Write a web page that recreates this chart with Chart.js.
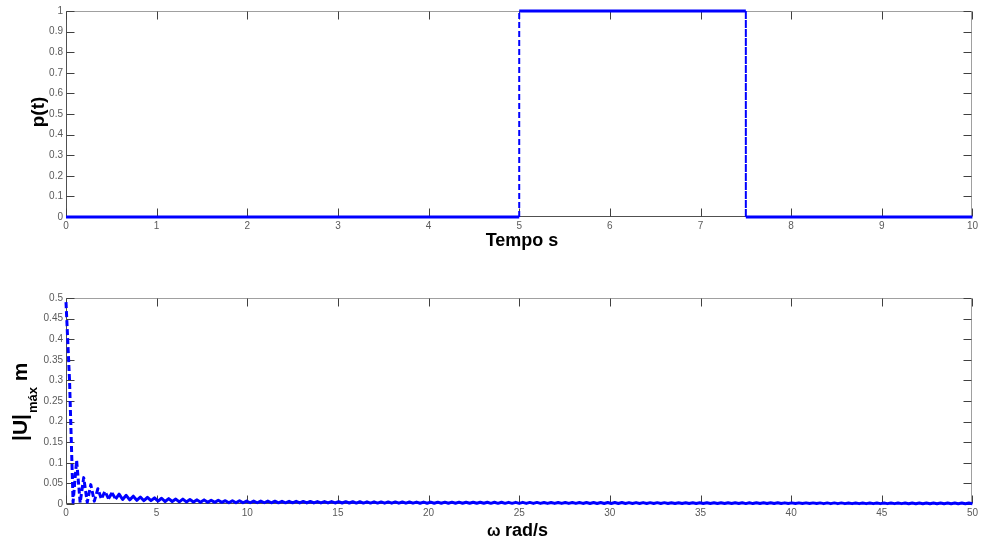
<!DOCTYPE html>
<html>
<head>
<meta charset="utf-8">
<script src="https://cdn.jsdelivr.net/npm/chart.js@4.4.1/dist/chart.umd.min.js"></script>
<style>
  html, body { margin: 0; padding: 0; background: #fff; }
  #wrap { position: relative; width: 981px; height: 547px; }
  canvas { position: absolute; left: 0; }
  #top-chart { top: 0; }
  #bottom-chart { top: 273px; }
</style>
</head>
<body>
<div id="wrap">
  <canvas id="top-chart" width="981" height="273"></canvas>
  <canvas id="bottom-chart" width="981" height="274"></canvas>
</div>
<script>
// pulse p(t)
const pTime = [0, 5, 5, 7.5, 7.5, 10];
const pValue = [0, 0, 1, 1, 0, 0];

const uMax = [
  0.49, 0.30, 0.004, 0.106, 0.003, 0.064, 0.004, 0.047, 0.007, 0.037,
  0.012, 0.031, 0.013, 0.027, 0.012, 0.024, 0.011, 0.021, 0.010, 0.019,
  0.009, 0.017, 0.008, 0.016, 0.008, 0.015, 0.007, 0.014, 0.006, 0.013,
  0.006, 0.012, 0.005, 0.012, 0.005, 0.011, 0.005, 0.010, 0.004, 0.010,
  0.004, 0.009, 0.004, 0.009, 0.004, 0.008, 0.003, 0.008, 0.003, 0.008,
  0.003, 0.007,
  0.003, 0.007, 0.003, 0.007, 0.003, 0.007, 0.003, 0.0068, 0.0029, 0.0066,
  0.0028, 0.0065, 0.0028, 0.0064, 0.0027, 0.0062, 0.0027, 0.0061, 0.0026, 0.006,
  0.0026, 0.0059, 0.0025, 0.0058, 0.0025, 0.0057, 0.0024, 0.0056, 0.0024, 0.0055,
  0.0023, 0.0054, 0.0023, 0.0053, 0.0022, 0.0052, 0.0022, 0.0051, 0.0021, 0.005,
  0.0021, 0.005, 0.002, 0.0049, 0.002, 0.0048, 0.002, 0.0047, 0.0019, 0.0047,
  0.0019, 0.0046, 0.0019, 0.0045, 0.0018, 0.0045, 0.0018, 0.0044, 0.0018, 0.0044,
  0.0017, 0.0043, 0.0017, 0.0043, 0.0017, 0.0042, 0.0017, 0.0042, 0.0016, 0.0041,
  0.0016, 0.0041, 0.0016, 0.004, 0.0016, 0.004, 0.0015, 0.004, 0.0015, 0.0039,
  0.0015, 0.0039, 0.0015, 0.0038, 0.0015, 0.0038, 0.0014, 0.0038, 0.0014, 0.0037,
  0.0014, 0.0037, 0.0014, 0.0037, 0.0014, 0.0036, 0.0014, 0.0036, 0.0013, 0.0036,
  0.0013, 0.0035, 0.0013, 0.0035, 0.0013, 0.0035, 0.0013, 0.0034, 0.0013, 0.0034,
  0.0012, 0.0034, 0.0012, 0.0033, 0.0012, 0.0033, 0.0012, 0.0033, 0.0012, 0.0032,
  0.0012, 0.0032, 0.0012, 0.0032, 0.0011, 0.0032, 0.0011, 0.0031, 0.0011, 0.0031,
  0.0011, 0.0031, 0.0011, 0.0031, 0.0011, 0.003, 0.0011, 0.003, 0.0011, 0.003,
  0.001, 0.003, 0.001, 0.0029, 0.001, 0.0029, 0.001, 0.0029, 0.001, 0.0029,
  0.001, 0.0028, 0.001, 0.0028, 0.001, 0.0028, 0.001, 0.0028, 0.001, 0.0027,
  0.001, 0.0027, 0.0009, 0.0027, 0.0009, 0.0027, 0.0009, 0.0027, 0.0009, 0.0026,
  0.0009, 0.0026, 0.0009, 0.0026, 0.0009, 0.0026, 0.0009, 0.0026, 0.0009, 0.0025,
  0.0009, 0.0025, 0.0009, 0.0025, 0.0009, 0.0025, 0.0008, 0.0025, 0.0008, 0.0025,
  0.0008, 0.0024, 0.0008, 0.0024, 0.0008, 0.0024, 0.0008, 0.0024, 0.0008, 0.0024,
  0.0008, 0.0024, 0.0008, 0.0023, 0.0008
];
const omegaMax = 50;

const FONT = "'Liberation Sans', Arial, sans-serif";
const BLUE = '#0000ff';
const TICK_LEN = 8;

const fmt = v => String(+Number(v).toFixed(2));

// MATLAB-like box with inward ticks on all four sides
function boxPlugin() {
    return {
        id: 'matlabBox',
        beforeDatasetsDraw(chart) {
            const { ctx, chartArea: a, scales: { x, y } } = chart;
            const L = Math.round(a.left) + 0.5, R = Math.round(a.right) - 0.5;
            const T = Math.round(a.top) + 0.5, B = Math.round(a.bottom) - 0.5;
            ctx.save();
            ctx.lineWidth = 1;
            ctx.strokeStyle = '#a0a0a0';
            ctx.beginPath();
            ctx.moveTo(L, T); ctx.lineTo(R, T); ctx.lineTo(R, B);
            ctx.stroke();
            ctx.strokeStyle = '#505050';
            ctx.beginPath();
            ctx.moveTo(L, T); ctx.lineTo(L, B); ctx.lineTo(R, B);
            ctx.stroke();
            ctx.strokeStyle = '#404040';
            ctx.beginPath();
            x.ticks.forEach(t => {
                const px = Math.round(x.getPixelForValue(t.value)) + 0.5;
                ctx.moveTo(px, B); ctx.lineTo(px, B - TICK_LEN);
                ctx.moveTo(px, T); ctx.lineTo(px, T + TICK_LEN);
            });
            y.ticks.forEach(t => {
                const py = Math.round(y.getPixelForValue(t.value)) + 0.5;
                ctx.moveTo(L, py); ctx.lineTo(L + TICK_LEN, py);
                ctx.moveTo(R, py); ctx.lineTo(R - TICK_LEN, py);
            });
            ctx.stroke();
            ctx.restore();
        }
    };
}

function titlesPlugin(draw) {
    return {
        id: 'axisTitles',
        afterDraw(chart) {
            const ctx = chart.ctx;
            ctx.save();
            ctx.fillStyle = '#000';
            draw(ctx);
            ctx.restore();
        }
    };
}

function axisOpts(min, max, step, size) {
    return {
        type: 'linear',
        min, max,
        grid: { display: false, drawTicks: false },
        border: { display: false },
        ticks: {
            stepSize: step,
            autoSkip: false,
            maxRotation: 0,
            padding: 3,
            color: '#5a5a5a',
            font: { family: FONT, size: 10 },
            callback: fmt
        },
        afterFit(scale) {
            if (scale.isHorizontal()) scale.height = size;
            else scale.width = size;
        }
    };
}

// dashes only show on long jumps, dense runs look solid
const longSeg = c => Math.hypot(c.p1.x - c.p0.x, c.p1.y - c.p0.y) > 7;

const common = {
    responsive: false,
    animation: false,
    devicePixelRatio: 1,
    events: [],
    plugins: { legend: { display: false }, tooltip: { enabled: false } }
};

new Chart(document.getElementById('top-chart'), {
    type: 'line',
    data: {
        datasets: [{
            data: pTime.map((t, i) => ({ x: t, y: pValue[i] })),
            borderColor: BLUE,
            borderWidth: 3,
            pointRadius: 0,
            tension: 0,
            clip: 6,
            segment: {
                borderDash: c => (c.p0.parsed.x === c.p1.parsed.x ? [6, 3] : undefined),
                borderWidth: c => (c.p0.parsed.x === c.p1.parsed.x ? 2 : 3)
            }
        }]
    },
    options: {
        ...common,
        layout: { padding: { top: 11, right: 8, left: 0, bottom: 0 } },
        scales: {
            x: axisOpts(0, 10, 1, 56),
            y: axisOpts(0, 1, 0.1, 66)
        }
    },
    plugins: [boxPlugin(), titlesPlugin(ctx => {
        ctx.font = `bold 18px ${FONT}`;
        ctx.textAlign = 'center';
        ctx.textBaseline = 'alphabetic';
        ctx.fillText('Tempo s', 522, 246);
        ctx.save();
        ctx.translate(44, 112);
        ctx.rotate(-Math.PI / 2);
        ctx.font = `bold 19px ${FONT}`;
        ctx.textBaseline = 'alphabetic';
        ctx.fillText('p(t)', 0, 0);
        ctx.restore();
    })]
});

new Chart(document.getElementById('bottom-chart'), {
    type: 'line',
    data: {
        datasets: [{
            data: uMax.map((u, i) => ({ x: i * omegaMax / (uMax.length - 1), y: u })),
            borderColor: BLUE,
            borderWidth: 3,
            borderJoinStyle: 'round',
            borderCapStyle: 'butt',
            pointRadius: 0,
            tension: 0,
            clip: 6,
            segment: {
                borderDash: c => (longSeg(c) ? [6, 3] : undefined)
            }
        }]
    },
    options: {
        ...common,
        layout: { padding: { top: 25, right: 8, left: 0, bottom: 0 } },
        scales: {
            x: axisOpts(0, omegaMax, 5, 43),
            y: axisOpts(0, 0.5, 0.05, 66)
        }
    },
    plugins: [boxPlugin(), titlesPlugin(ctx => {
        ctx.textBaseline = 'alphabetic';
        ctx.textAlign = 'left';
        ctx.font = `bold 16px ${FONT}`;
        ctx.fillText('ω', 487, 263);
        ctx.font = `bold 18px ${FONT}`;
        ctx.fillText('rad/s', 505, 263);

        // |U| with subscript máx, then unit m, rotated
        ctx.save();
        ctx.translate(27, 441 - 273);
        ctx.rotate(-Math.PI / 2);
        const big = `bold 21px ${FONT}`, small = `bold 13px ${FONT}`;
        ctx.font = big;
        ctx.fillText('|U|', 0, 0);
        let u = ctx.measureText('|U|').width + 1;
        ctx.font = small;
        ctx.fillText('máx', u, 10);
        u += ctx.measureText('máx').width;
        ctx.font = big;
        ctx.fillText(' m', u, 0);
        ctx.restore();
    })]
});
</script>
</body>
</html>
